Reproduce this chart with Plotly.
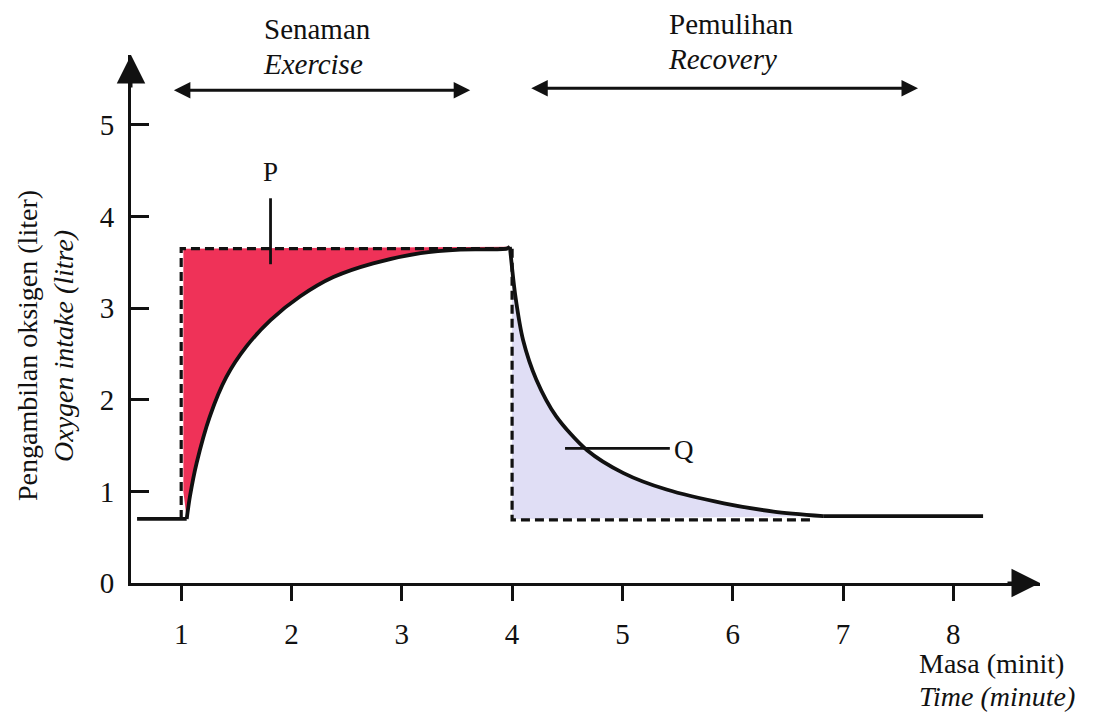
import plotly.graph_objects as go

# ---------------- data ----------------
pre_t = [0.60, 1.05]
pre_o2 = [0.70, 0.70]

exercise_t = [1.05, 1.08, 1.14, 1.26, 1.41, 1.59, 1.81, 2.08, 2.38, 2.74, 3.17, 3.53, 3.95, 3.98]
exercise_o2 = [0.70, 0.95, 1.31, 1.82, 2.25, 2.58, 2.87, 3.13, 3.34, 3.49, 3.60, 3.64, 3.65, 3.67]

recovery_t = [3.98, 4.03, 4.10, 4.22, 4.40, 4.68, 5.01, 5.40, 5.92, 6.37, 6.82]
recovery_o2 = [3.67, 3.13, 2.65, 2.22, 1.82, 1.45, 1.20, 1.02, 0.87, 0.78, 0.73]

post_t = [6.82, 8.27]
post_o2 = [0.73, 0.73]

rest_o2 = 0.70
steady_o2 = 3.65
exercise_start = 1.0
exercise_end = 4.0
dash_end = 6.72

x_ticks = [1, 2, 3, 4, 5, 6, 7, 8]
y_ticks = [0, 1, 2, 3, 4, 5]
x_range = [0.545, 8.786]
y_range = [0.0, 5.764]

FONT = '"Liberation Serif", "Times New Roman", Times, serif'
INK = "#111111"
RED = "#EF3258"
LAV = "#E0DEF5"

# page offset (body margin) and plot-area geometry in pixels
OFF = 8
W, H = 1117, 714
ML, MT = 131 - OFF, 55 - OFF
MR, MB = W - (1040 - OFF), H - (583 - OFF)
PW, PH = W - ML - MR, H - MT - MB


def paper(px, py):
    return (px - OFF - ML) / PW, (H - MB - (py - OFF)) / PH


fig = go.Figure()

# oxygen deficit (P)
fig.add_trace(go.Scatter(
    x=exercise_t + [exercise_start + 0.02, exercise_start + 0.02],
    y=exercise_o2 + [steady_o2, 1.0],
    fill="toself", fillcolor=RED, line=dict(width=0), mode="lines",
    hoverinfo="skip", showlegend=False))

# EPOC (Q)
fig.add_trace(go.Scatter(
    x=recovery_t + [exercise_end, exercise_end],
    y=recovery_o2 + [rest_o2, steady_o2],
    fill="toself", fillcolor=LAV, line=dict(width=0), mode="lines",
    hoverinfo="skip", showlegend=False))

dash = dict(color=INK, width=3.2, dash="9px,5px")
fig.add_trace(go.Scatter(
    x=[exercise_start, exercise_start, exercise_end],
    y=[rest_o2, steady_o2, steady_o2],
    mode="lines", line=dash, hoverinfo="skip", showlegend=False))
fig.add_trace(go.Scatter(
    x=[exercise_end, exercise_end, dash_end],
    y=[steady_o2, rest_o2 - 0.01, rest_o2 - 0.01],
    mode="lines", line=dash, hoverinfo="skip", showlegend=False))

solid = dict(color=INK, width=3.8)
fig.add_trace(go.Scatter(x=pre_t, y=pre_o2, mode="lines", line=solid,
                         hoverinfo="skip", showlegend=False))
fig.add_trace(go.Scatter(x=exercise_t, y=exercise_o2, mode="lines",
                         line=dict(solid, shape="spline", smoothing=0.8),
                         hoverinfo="skip", showlegend=False))
fig.add_trace(go.Scatter(x=recovery_t, y=recovery_o2, mode="lines",
                         line=dict(solid, shape="spline", smoothing=0.8),
                         hoverinfo="skip", showlegend=False))
fig.add_trace(go.Scatter(x=post_t, y=post_o2, mode="lines", line=solid,
                         hoverinfo="skip", showlegend=False))

# leader lines for P and Q
fig.add_trace(go.Scatter(x=[1.81, 1.81], y=[4.20, 3.48], mode="lines",
                         line=dict(color=INK, width=2.8),
                         hoverinfo="skip", showlegend=False))
fig.add_trace(go.Scatter(x=[4.48, 5.43], y=[1.47, 1.47], mode="lines",
                         line=dict(color=INK, width=2.8),
                         hoverinfo="skip", showlegend=False))

ann = []
ann.append(dict(x=1.81, y=4.49, xref="x", yref="y", text="P", showarrow=False,
                font=dict(family=FONT, size=27, color=INK)))
ann.append(dict(x=5.45, y=1.45, xref="x", yref="y", text="Q", showarrow=False,
                xanchor="left", font=dict(family=FONT, size=27, color=INK)))

# phase double arrows
for x0, x1, yy in [(0.92, 3.62, 5.38), (4.16, 7.68, 5.40)]:
    ann.append(dict(x=x1, y=yy, ax=x0, ay=yy, xref="x", yref="y", axref="x", ayref="y",
                    text="", showarrow=True, arrowhead=2, arrowside="end+start",
                    arrowsize=1.1, arrowwidth=3, arrowcolor=INK))


def txt(px, py, s, italic=False, anchor="center", angle=0, size=29):
    xp, yp = paper(px, py)
    return dict(x=xp, y=yp, xref="paper", yref="paper", text=s, showarrow=False,
                xanchor=anchor, yanchor="middle", textangle=angle,
                font=dict(family=FONT, size=size, color=INK,
                          style="italic" if italic else "normal"))


ann.append(txt(317, 29, "Senaman"))
ann.append(txt(313, 64, "Exercise", italic=True))
ann.append(txt(731, 24, "Pemulihan"))
ann.append(txt(722, 59, "Recovery", italic=True))
ann.append(txt(917, 663, "Masa (minit)", anchor="left", size=28))
ann.append(txt(917, 696, "Time (minute)", italic=True, anchor="left", size=28))
ann.append(txt(27, 346, "Pengambilan oksigen (liter)", angle=-90, size=28))
ann.append(txt(63, 346, "Oxygen intake (litre)", italic=True, angle=-90, size=28))

# axis arrowheads
ann.append(dict(x=0, y=1, xref="paper", yref="paper", ax=0, ay=34, text="",
                showarrow=True, arrowhead=2, arrowsize=1.9, arrowwidth=3,
                arrowcolor=INK))
ann.append(dict(x=1, y=0, xref="paper", yref="paper", ax=-34, ay=0, text="",
                showarrow=True, arrowhead=2, arrowsize=1.9, arrowwidth=3,
                arrowcolor=INK))

fig.update_layout(
    width=W, height=H,
    margin=dict(l=ML, r=MR, t=MT, b=MB),
    paper_bgcolor="white", plot_bgcolor="white",
    font=dict(family=FONT, color=INK),
    annotations=ann,
    xaxis=dict(range=x_range, tickvals=x_ticks, ticktext=[str(v) for v in x_ticks],
               showgrid=False, zeroline=False, showline=True, linecolor=INK,
               linewidth=3, ticks="outside", ticklen=15, tickwidth=3,
               tickcolor=INK, ticklabelstandoff=8,
               tickfont=dict(family=FONT, size=29, color=INK)),
    yaxis=dict(range=y_range, tickvals=y_ticks, ticktext=[str(v) for v in y_ticks],
               showgrid=False, zeroline=False, showline=True, linecolor=INK,
               linewidth=3, ticks="inside", ticklen=18, tickwidth=3,
               tickcolor=INK, ticklabelstandoff=8,
               tickfont=dict(family=FONT, size=29, color=INK)),
    showlegend=False,
)

fig.write_html("out.html")
